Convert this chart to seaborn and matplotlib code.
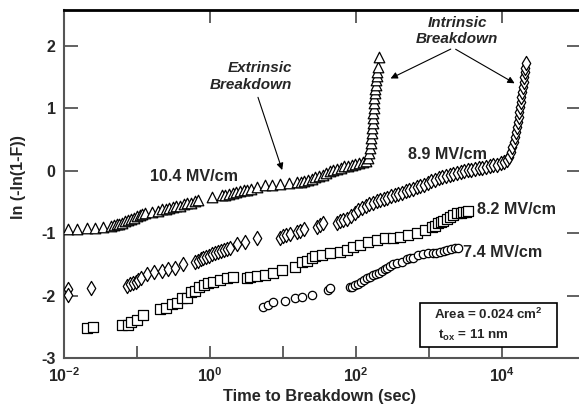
import numpy as np
import pandas as pd
import matplotlib
matplotlib.use("Agg")
import matplotlib.pyplot as plt
from matplotlib.patches import Rectangle
import seaborn as sns

# ---------------- data (log10 of time in s, ln(-ln(1-F))) ----------------
logt_104 = [-1.945, -1.82, -1.68, -1.575, -1.465, -1.355,
            -1.32, -1.28, -1.24, -1.20, -1.16, -1.12, -1.08, -1.04, -1.00, -0.96, -0.93,
            -0.89, -0.79, -0.71,
            -0.66, -0.61, -0.56, -0.51, -0.46, -0.41, -0.36, -0.31, -0.26, -0.21, -0.16,
            0.03,
            0.16, 0.21, 0.26, 0.31, 0.36, 0.41, 0.46, 0.51, 0.56,
            0.645, 0.75, 0.85, 0.96, 1.08, 1.19,
            1.24, 1.29, 1.34, 1.39, 1.44, 1.49, 1.54, 1.59, 1.64, 1.69, 1.74, 1.79, 1.84,
            1.89, 1.94, 1.99, 2.04, 2.09, 2.14,
            2.16, 2.175, 2.19, 2.20, 2.21, 2.215, 2.22, 2.225, 2.23, 2.235, 2.24, 2.245,
            2.25, 2.255, 2.26, 2.27, 2.275, 2.285, 2.29, 2.30, 2.31]
y_104 = [-0.93, -0.93, -0.915, -0.915, -0.90, -0.88,
         -0.87, -0.86, -0.85, -0.83, -0.81, -0.79, -0.77, -0.75, -0.73, -0.71, -0.70,
         -0.67, -0.66, -0.64,
         -0.62, -0.61, -0.60, -0.58, -0.57, -0.56, -0.54, -0.52, -0.51, -0.49, -0.47,
         -0.42,
         -0.39, -0.38, -0.37, -0.35, -0.34, -0.33, -0.31, -0.30, -0.29,
         -0.26, -0.23, -0.22, -0.21, -0.19, -0.18,
         -0.18, -0.17, -0.15, -0.13, -0.10, -0.08, -0.06, -0.03, -0.01, 0.01, 0.03, 0.05, 0.07,
         0.08, 0.10, 0.11, 0.12, 0.14, 0.16,
         0.20, 0.28, 0.36, 0.44, 0.52, 0.60, 0.68, 0.76, 0.84, 0.92, 1.00, 1.08,
         1.16, 1.24, 1.31, 1.38, 1.45, 1.52, 1.58, 1.67, 1.83]

logt_89 = [-1.945, -1.945, -1.63,
           -1.14, -1.10, -1.06, -1.02, -0.98, -0.94,
           -0.86, -0.77, -0.66, -0.575, -0.48, -0.37,
           -0.21, -0.17, -0.13, -0.09, -0.05, -0.01, 0.03, 0.07, 0.11, 0.15, 0.19, 0.23, 0.27,
           0.37, 0.48, 0.64,
           0.96, 1.00, 1.04, 1.09, 1.19, 1.23, 1.28, 1.47, 1.51, 1.55, 1.74, 1.78, 1.82,
           1.88, 1.93, 1.98, 2.03, 2.08, 2.13, 2.18, 2.23, 2.28, 2.33, 2.38, 2.43, 2.48,
           2.53, 2.58, 2.63, 2.68, 2.73, 2.78, 2.83, 2.88, 2.93, 2.98, 3.03, 3.08, 3.13,
           3.18, 3.23, 3.28, 3.33, 3.38, 3.43, 3.48, 3.53, 3.58, 3.63, 3.68, 3.73, 3.78,
           3.83, 3.88, 3.93, 3.98, 4.03, 4.07,
           4.10, 4.12, 4.14, 4.16, 4.175, 4.19, 4.20, 4.215, 4.225, 4.235, 4.245, 4.255,
           4.265, 4.275, 4.285, 4.295, 4.30, 4.31, 4.315, 4.325]
y_89 = [-1.90, -1.99, -1.88,
        -1.85, -1.82, -1.80, -1.78, -1.75, -1.72,
        -1.66, -1.62, -1.60, -1.57, -1.55, -1.49,
        -1.46, -1.44, -1.42, -1.40, -1.38, -1.36, -1.34, -1.32, -1.30, -1.28, -1.27, -1.25, -1.23,
        -1.17, -1.14, -1.08,
        -1.07, -1.05, -1.03, -1.01, -0.98, -0.96, -0.93, -0.90, -0.87, -0.84, -0.84, -0.81, -0.79,
        -0.78, -0.73, -0.68, -0.63, -0.60, -0.57, -0.54, -0.51, -0.49, -0.47, -0.45, -0.43, -0.41,
        -0.39, -0.37, -0.35, -0.33, -0.31, -0.29, -0.26, -0.24, -0.22, -0.19, -0.17, -0.14, -0.12,
        -0.10, -0.08, -0.06, -0.05, -0.03, -0.02, -0.01, 0.01, 0.02, 0.03, 0.04, 0.05, 0.06,
        0.07, 0.09, 0.10, 0.12, 0.14, 0.18,
        0.22, 0.30, 0.38, 0.46, 0.54, 0.62, 0.70, 0.78, 0.86, 0.94, 1.02, 1.10,
        1.18, 1.26, 1.34, 1.42, 1.50, 1.58, 1.65, 1.73]

logt_82 = [-1.685, -1.60, -1.205, -1.12, -1.08, -1.00, -0.92, -0.685, -0.60, -0.52,
           -0.45, -0.38, -0.315, -0.26, -0.205, -0.15, -0.08, -0.03, 0.04, 0.14, 0.23,
           0.315, 0.51, 0.55, 0.645, 0.755, 0.86, 0.99, 1.16, 1.26, 1.33, 1.40, 1.44,
           1.53, 1.64, 1.78, 1.88, 1.96, 2.05, 2.16, 2.29, 2.40, 2.51, 2.60, 2.71, 2.84,
           2.95, 3.04, 3.08, 3.12, 3.16, 3.19, 3.24, 3.29, 3.33, 3.38, 3.43, 3.47, 3.50, 3.53]
y_82 = [-2.52, -2.51, -2.47, -2.47, -2.42, -2.39, -2.31, -2.22, -2.20, -2.13,
        -2.12, -2.04, -2.04, -1.95, -1.93, -1.87, -1.83, -1.80, -1.78, -1.75, -1.72,
        -1.70, -1.72, -1.70, -1.69, -1.67, -1.63, -1.59, -1.54, -1.46, -1.45, -1.40, -1.36,
        -1.35, -1.32, -1.30, -1.27, -1.22, -1.19, -1.14, -1.11, -1.08, -1.07, -1.06, -1.03, -1.00,
        -0.95, -0.90, -0.88, -0.84, -0.82, -0.80, -0.77, -0.74, -0.71, -0.68, -0.67, -0.66, -0.66, -0.65]

logt_74 = [0.73, 0.795, 0.86, 1.03, 1.165, 1.26, 1.40, 1.62, 1.64, 1.92,
           1.95, 1.99, 2.03, 2.07, 2.11, 2.15, 2.19, 2.23, 2.27, 2.31, 2.35, 2.39, 2.43,
           2.47, 2.51, 2.56, 2.63, 2.70, 2.74, 2.78, 2.85, 2.92, 2.98, 3.05, 3.10, 3.15,
           3.20, 3.25, 3.30, 3.35, 3.40]
y_74 = [-2.18, -2.15, -2.10, -2.08, -2.04, -2.02, -1.99, -1.91, -1.88, -1.86,
        -1.86, -1.83, -1.81, -1.78, -1.75, -1.72, -1.70, -1.67, -1.65, -1.63, -1.60, -1.58, -1.55,
        -1.52, -1.49, -1.47, -1.46, -1.42, -1.40, -1.39, -1.35, -1.33, -1.32, -1.32, -1.31, -1.30,
        -1.28, -1.27, -1.25, -1.24, -1.24]

series_labels = ["10.4 MV/cm", "8.9 MV/cm", "8.2 MV/cm", "7.4 MV/cm"]
x_tick_exps = [-2, -1, 0, 1, 2, 3, 4]
x_label_exps = [-2, 0, 2, 4]
y_ticks = [-3, -2, -1, 0, 1, 2]

# ---------------- style ----------------
sns.set_style("ticks")
plt.rcParams["font.family"] = ["Liberation Sans", "DejaVu Sans"]
plt.rcParams["font.weight"] = "bold"
plt.rcParams["mathtext.fontset"] = "custom"
plt.rcParams["mathtext.rm"] = "Liberation Sans:bold"
plt.rcParams["mathtext.bf"] = "Liberation Sans:bold"
plt.rcParams["mathtext.it"] = "Liberation Sans:bold:italic"

W, H = 579, 409
fig = plt.figure(figsize=(W / 100, H / 100), dpi=100)
x0, x1, ytop, ybot = 64, 581, 9.5, 358
ax = fig.add_axes([x0 / W, 1 - ybot / H, (x1 - x0) / W, (ybot - ytop) / H])

frames = []
for lab, lt, yy in zip(series_labels, [logt_104, logt_89, logt_82, logt_74],
                       [y_104, y_89, y_82, y_74]):
    frames.append(pd.DataFrame({"time": 10 ** np.array(lt), "y": yy, "field": lab}))
df = pd.concat(frames, ignore_index=True)

markers = {"10.4 MV/cm": "^", "8.9 MV/cm": "d", "8.2 MV/cm": "s", "7.4 MV/cm": "o"}
sizes = {"10.4 MV/cm": 58, "8.9 MV/cm": 52, "8.2 MV/cm": 44, "7.4 MV/cm": 36}
for lab in series_labels:
    sub = df[df["field"] == lab]
    sns.scatterplot(data=sub, x="time", y="y", marker=markers[lab], s=sizes[lab],
                    facecolor="white", edgecolor="black", linewidth=0.9, ax=ax,
                    legend=False, zorder=3)

ax.set_xscale("log")
ax.set_xlim(1e-2, 10 ** 5.08)
ax.set_ylim(-3, 2.585)

gray = "#555555"
ax.set_xticks([10.0 ** e for e in x_label_exps])
ax.set_xticklabels([r"$\mathbf{10^{%d}}$" % e for e in x_label_exps])
ax.set_xticks([10.0 ** e for e in x_tick_exps if e not in x_label_exps], minor=True)
ax.set_xticklabels([], minor=True)
ax.set_yticks(y_ticks)
ax.set_yticklabels([str(v) for v in y_ticks])
ax.tick_params(axis="x", which="major", direction="in", length=9, width=1.3,
               color=gray, top=True, bottom=True, labelsize=11.5, pad=6)
ax.tick_params(axis="x", which="minor", direction="in", length=9, width=1.3,
               color=gray, top=False, bottom=True)
ax.tick_params(axis="y", which="major", direction="in", length=10, width=1.3,
               color=gray, left=True, right=True, labelsize=11.5, pad=6)
ax.tick_params(axis="y", which="minor", left=False, right=False)
for t in ax.get_xticklabels() + ax.get_yticklabels():
    t.set_fontweight("bold")

for s in ["left", "bottom"]:
    ax.spines[s].set_color(gray)
    ax.spines[s].set_linewidth(1.5)
ax.spines["top"].set_color("black")
ax.spines["top"].set_linewidth(2)
ax.spines["right"].set_visible(False)

ax.set_xlabel("Time to Breakdown (sec)", fontsize=11.8, fontweight="bold")
ax.set_ylabel("ln (-ln(1-F))", fontsize=11.5, fontweight="bold")
ax.xaxis.set_label_coords(0.495, -0.09)
ax.yaxis.set_label_coords(-0.074, 0.52)

# series labels
lab_pos = [(0.151, -0.096), (515, 0.257), (4550, -0.626), (2925, -1.316)]
for lab, (lx, ly) in zip(series_labels, lab_pos):
    ax.text(lx, ly, lab, fontsize=11.6, fontweight="bold", ha="left", va="center", zorder=4)

# annotations
ax.text(13.3, 1.51, "Extrinsic\nBreakdown", fontsize=11, fontweight="bold", style="italic",
        ha="right", va="center", multialignment="right", linespacing=1.2)
ax.annotate("", xy=(10.0, -0.03), xytext=(4.41, 1.22),
            arrowprops=dict(arrowstyle="-|>", color="black", lw=0.8, mutation_scale=10))
ax.text(2420, 2.24, "Intrinsic\nBreakdown", fontsize=11, fontweight="bold", style="italic",
        ha="center", va="center", multialignment="center", linespacing=1.2)
for tx, ty in [(274, 1.46), (16000, 1.38)]:
    ax.annotate("", xy=(tx, ty), xytext=(2140, 1.97),
                arrowprops=dict(arrowstyle="-|>", color="black", lw=0.8, mutation_scale=10))

# info box
bx0, bx1 = (420 - x0) / (x1 - x0), (557 - x0) / (x1 - x0)
by0, by1 = (ybot - 347) / (ybot - ytop), (ybot - 303) / (ybot - ytop)
ax.add_patch(Rectangle((bx0, by0), bx1 - bx0, by1 - by0, transform=ax.transAxes,
                       facecolor="white", edgecolor="black", lw=1.2, zorder=5))
ax.text((434 - x0) / (x1 - x0), (ybot - 314) / (ybot - ytop), r"Area = 0.024 cm$^\mathbf{2}$",
        transform=ax.transAxes, fontsize=9.6, fontweight="bold", ha="left", va="center", zorder=6)
ax.text((438 - x0) / (x1 - x0), (ybot - 335) / (ybot - ytop), r"t$_\mathbf{ox}$ = 11 nm",
        transform=ax.transAxes, fontsize=9.6, fontweight="bold", ha="left", va="center", zorder=6)

fig.savefig("out.png", dpi=100)
